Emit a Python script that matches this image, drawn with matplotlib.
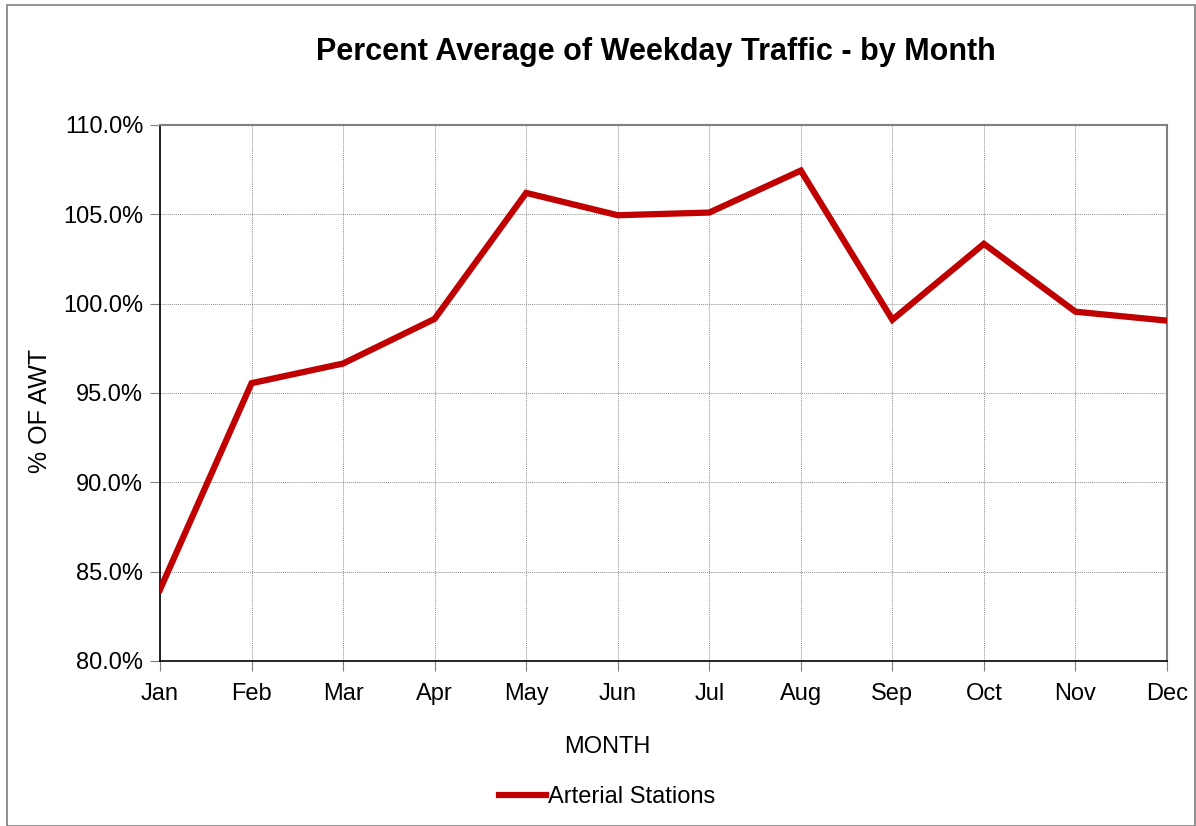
import matplotlib
matplotlib.use("Agg")
import matplotlib.pyplot as plt
from matplotlib.ticker import FuncFormatter, MultipleLocator
from matplotlib.patches import Rectangle

months = ["Jan", "Feb", "Mar", "Apr", "May", "Jun", "Jul", "Aug", "Sep", "Oct", "Nov", "Dec"]
arterial = [84.0, 95.55, 96.65, 99.15, 106.2, 104.95, 105.1, 107.45, 99.1, 103.35, 99.55, 99.05]

plt.rcParams['font.family'] = ['Liberation Sans', 'DejaVu Sans']

fig = plt.figure(figsize=(11.96, 8.26), dpi=100)
W, H = 1196, 826
ax = fig.add_axes([160 / W, 1 - 661 / H, (1167 - 160) / W, (661 - 125) / H])

x = list(range(len(months)))
ax.plot(x, arterial, color="#C00000", lw=4.5, solid_joinstyle="miter", label="Arterial Stations", zorder=3)

ax.set_xlim(0, len(months) - 1)
ax.set_ylim(80, 110)
ax.yaxis.set_major_locator(MultipleLocator(5))
ax.yaxis.set_major_formatter(FuncFormatter(lambda v, p: f"{v:.1f}%"))
ax.set_xticks(x)
ax.set_xticklabels(months)
ax.tick_params(axis="both", labelsize=17, length=7, width=0.8, color="#808080", direction="out")
ax.tick_params(axis="y", pad=5)
ax.tick_params(axis="x", pad=9)
ax.grid(True, color="#909090", linestyle=(0, (1, 1)), linewidth=0.7)
ax.set_axisbelow(True)

for s in ["left", "bottom"]:
    ax.spines[s].set_color("black")
    ax.spines[s].set_linewidth(1.2)
for s in ["top", "right"]:
    ax.spines[s].set_color("#808080")
    ax.spines[s].set_linewidth(1.5)

fig.text(607 / W, 1 - 747 / H, "MONTH", ha="center", va="center", fontsize=17)
fig.text(40 / W, 1 - 411 / H, "% OF AWT", ha="center", va="center", fontsize=18, rotation=90)

fig.text(656 / W, 1 - 52 / H, "Percent Average of Weekday Traffic - by Month",
         ha="center", va="center", fontsize=22, fontweight="bold")

leg = fig.legend(handles=ax.get_lines(), loc="center", bbox_to_anchor=(607 / W, 1 - 797 / H),
                 frameon=False, fontsize=17, handlelength=2.0, handletextpad=0.1)

fig.patches.append(Rectangle((7 / W, 0), 1 - 8 / W, 1 - 5 / H, transform=fig.transFigure,
                             fill=False, edgecolor="#808080", linewidth=1.2))

fig.savefig("out.png", dpi=100)
